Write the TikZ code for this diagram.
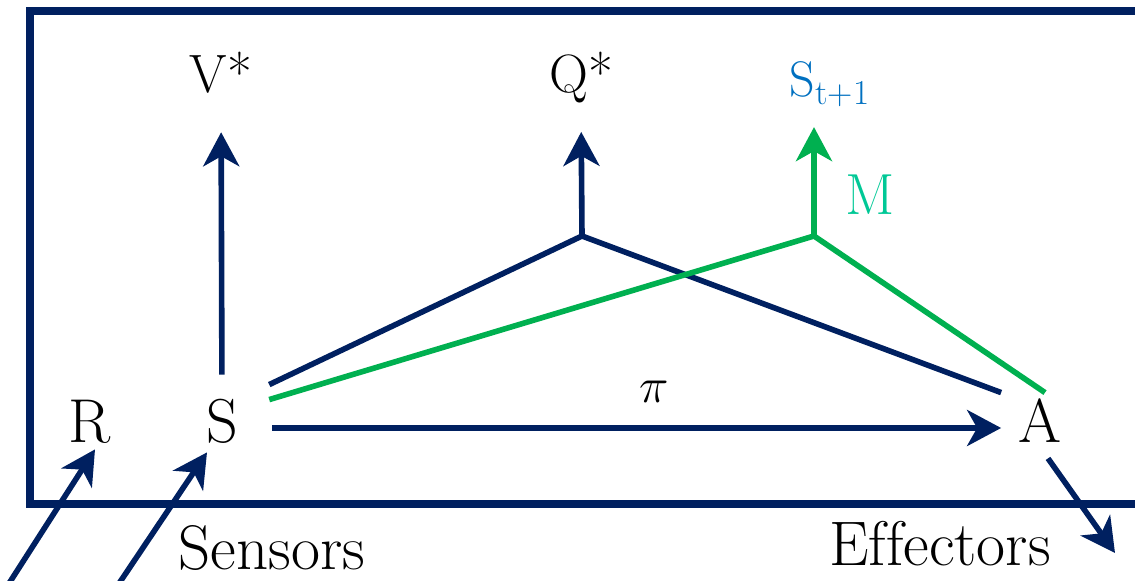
\documentclass[tikz,border=0pt]{standalone}
\usepackage{fontspec}
\usetikzlibrary{arrows.meta}
\definecolor{agnavy}{HTML}{002060}
\definecolor{aggreen}{HTML}{00B050}
\definecolor{agmodel}{HTML}{00C896}
\definecolor{agnext}{HTML}{0070C0}
\tikzset{
  sigtxt/.style={
    font=\fontsize{31}{36}\selectfont, inner sep=0pt,
    text height=21pt, text depth=6pt
  },
  valtxt/.style={
    font=\fontsize{27}{32}\selectfont, inner sep=0pt, anchor=base
  },
  sidetxt/.style={
    font=\fontsize{31.5}{36}\selectfont, inner sep=0pt, anchor=base
  },
  navyline/.style={line width=2.8pt, agnavy},
  greenline/.style={line width=2.8pt, aggreen},
  navyarrow/.style={
    navyline, -{Stealth[length=17pt, width=18pt, inset=5pt]}
  },
  greenarrow/.style={
    greenline, -{Stealth[length=17pt, width=18pt, inset=5pt]}
  },
  framebox/.style={line width=4pt, agnavy}
}
\begin{document}
\begin{tikzpicture}[x=0.5pt, y=-0.5pt]
  \useasboundingbox (0,0) rectangle (1135,581);
  \draw[framebox] (30,11) rectangle (1180,504);

  % Signals
  \node[sigtxt] (R) at (90,428)   {R};
  \node[sigtxt] (S) at (222,428)  {S};
  \node[sigtxt] (A) at (1040,428) {A};

  % Values and model
  \node[valtxt] (V) at (221,93) {V*};
  \node[valtxt] (Q) at (581,93) {Q*};
  \node[valtxt, font=\fontsize{25}{30}\selectfont, text=agnext] (Snext) at (830,97)
      {S\textsubscript{t+1}};
  \node[valtxt, font=\fontsize{29}{34}\selectfont, text=agmodel] (M) at (870,215) {M};
  \node[valtxt, font=\fontsize{38}{44}\selectfont] (pi) at (654,403) {$\pi$};

  % Outside labels
  \node[sidetxt] (sens) at (272,570) {Sensors};
  \node[sidetxt] (eff)  at (940,566) {Ef\kern0ptfectors};

  \coordinate (qJ) at (582,236);
  \coordinate (mJ) at (814,236);
  \coordinate (rIn) at (8,585);
  \coordinate (sIn) at (118,585);
  \coordinate (aOut) at (1115,553);

  % Arrows
  \draw[navyarrow, shorten <=13pt, shorten >=19pt] (S.north) -- (V.south);
  \draw[navyarrow, shorten >=14pt] (qJ) -- (Q.south);
  \draw[navyline] ([shift={(31,-16)}]S.north east) -- (qJ) -- ([shift={(-17,-8)}]A.north west);
  \draw[greenline] ([shift={(31,-1)}]S.north east) -- (mJ) -- ([shift={(5,-8)}]A.north);
  \draw[greenarrow, shorten >=10pt] (mJ) -- (mJ |- Snext.south);
  \draw[navyarrow, shorten <=17pt, shorten >=8.5pt] (S.east) -- (A.west);
  \draw[navyarrow] (rIn) -- ([shift={(5,-6)}]R.south);
  \draw[navyarrow] (sIn) -- ([shift={(-15,-3)}]S.south);
  \draw[navyarrow] ([shift={(8,3)}]A.south) -- (aOut);
\end{tikzpicture}
\end{document}
